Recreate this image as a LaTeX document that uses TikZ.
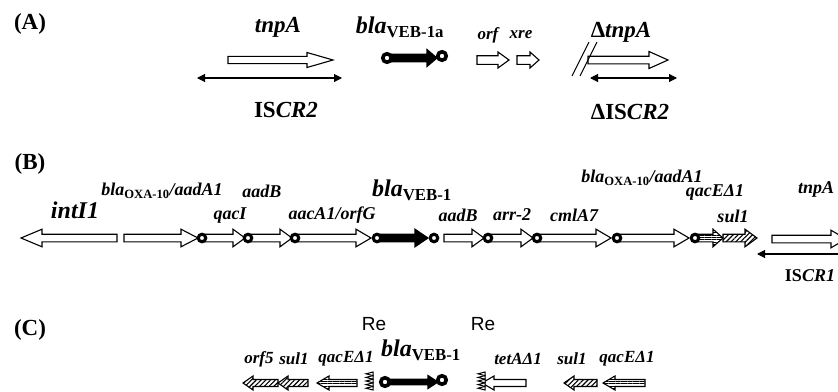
\documentclass[tikz,border=0pt]{standalone}
\usepackage{fontspec}
\setmainfont{Liberation Serif}
\setsansfont{Liberation Sans}
\usetikzlibrary{arrows.meta,patterns.meta}

\def\gs{4}\def\gH{9}
\newcommand{\gene}[5][]{%
  \pgfmathsetmacro\gneck{#3-sign(#3-#2)*#5}%
  \path[genebase,#1] (#2,#4-\gs) -- (\gneck,#4-\gs) -- (\gneck,#4-\gH) -- (#3,#4)
     -- (\gneck,#4+\gH) -- (\gneck,#4+\gs) -- (#2,#4+\gs) -- cycle;}
\newcommand{\resite}[2]{%
  \foreach \k in {0,...,4} {\draw[line width=1pt, fill=white]
     (#1,#2+3.6*\k) -- (#1-7,#2+1.8+3.6*\k) -- (#1,#2+3.6+3.6*\k) -- cycle;}}

\tikzset{
  genebase/.style={draw=black, line width=1.1pt, fill=white, line join=miter},
  solidg/.style={fill=black},
  hatch/.style={pattern={Lines[angle=45,distance=3.4pt,line width=1.1pt]}},
  hstripe/.style={pattern={Lines[angle=0,distance=2.4pt,line width=0.8pt]}},
  att/.style={circle, draw=black, fill=white, line width=3.1pt, inner sep=0pt, minimum size=7.5pt},
  attA/.style={att, line width=3.6pt, minimum size=8.5pt},
  dbl/.style={{Triangle[length=8pt,width=8pt]}-{Triangle[length=8pt,width=8pt]}, line width=1.1pt},
  pan/.style={font=\fontsize{23}{25}\selectfont\bfseries, inner sep=0pt},
  labA/.style={font=\fontsize{23}{25}\selectfont\bfseries\itshape, inner sep=0pt},
  labS/.style={font=\fontsize{17}{20}\selectfont\bfseries\itshape, inner sep=0pt},
  labB/.style={font=\fontsize{18}{20}\selectfont\bfseries\itshape, inner sep=0pt},
  labBig/.style={font=\fontsize{24}{26}\selectfont\bfseries\itshape, inner sep=0pt},
  relab/.style={font=\fontsize{19}{21}\selectfont\sffamily, inner sep=0pt},
}

\begin{document}
\begin{tikzpicture}[x=1pt,y=-1pt]
\fill[white] (0,0) rectangle (838,391);
\clip (0,0) rectangle (838,391);

% ---------------- Panel A ----------------
\node[pan] (pA) at (30,24) {(A)};
\def\gs{3.6}\def\gH{7.5}
\gene{228}{333}{60}{26}
\node[labA] (tnpA) at (278,27) {tnpA};
\coordinate (a1) at (197,78); \coordinate (a2) at (342,78);
\draw[dbl] (a1) -- (a2);
\node[labA] (iscr2) at (286,110) {{\upshape IS}CR2};

\def\gs{3.8}\def\gH{8.5}
\gene[solidg]{387}{437}{58}{10}
\node[attA] (vA1) at (387,58) {};
\node[attA] (vA2) at (442,56) {};
\node[labBig] (veb1a) at (400,27) {bla\textsubscript{\upshape VEB-1a}};

\def\gs{4.3}\def\gH{8}
\gene{477}{509}{60}{11}
\gene{517}{539}{60}{9}
\node[labS] (orf) at (488,35) {orf};
\node[labS] (xre) at (521,35) {xre};

\def\gs{3.8}\def\gH{8.5}
\gene{588}{668}{60}{19}
\draw[line width=1pt] (572,76) -- (589,42);
\draw[line width=1pt] (580,76) -- (597,42);
\coordinate (a3) at (590,78); \coordinate (a4) at (677,78);
\draw[dbl] (a3) -- (a4);
\node[labA] (dtnpA) at (621,32) {{\upshape Δ}tnpA};
\node[labA] (discr2) at (630,112) {{\upshape ΔIS}CR2};

% ---------------- Panel B ----------------
\node[pan] (pB) at (30,164) {(B)};
\def\gs{3.8}\def\gH{8.8}
\gene{117}{21}{238}{21}
\node[labBig] (intI1) at (75,210) {intI1};
\gene{124}{198}{238}{17}
\gene{202}{245}{238}{12}
\gene{248}{292}{238}{12}
\gene{295}{371}{238}{15}
\gene[solidg]{377}{428}{238}{13}
\gene{444}{484}{238}{12}
\gene{488}{533}{238}{12}
\gene{537}{611}{238}{15}
\gene{617}{689}{238}{15}
\gene[hstripe]{695}{723}{238}{10}
\gene[hatch]{723}{757}{238}{12}
\gene{772}{846}{239}{15}
\node[att] (c1) at (202,238) {};
\node[att] (c2) at (248,238) {};
\node[att] (c3) at (295,238) {};
\node[att] (c4) at (377,238) {};
\node[att] (c5) at (434,238) {};
\node[att] (c6) at (488,238) {};
\node[att] (c7) at (537,238) {};
\node[att] (c8) at (617,238) {};
\node[att] (c9) at (695,238) {};
\coordinate (b1) at (757,254); \coordinate (b2) at (846,254);
\draw[dbl] (b1) -- (b2);

\node[labB] (oxa1) at (162,191) {bla\textsubscript{\upshape OXA-10}/aadA1};
\node[labB] (qacI) at (230,216) {qacI};
\node[labB] (aadB1) at (262,191) {aadB};
\node[labB] (aacA1) at (332,215) {aacA1/orfG};
\node[labBig] (veb1) at (412,190) {bla\textsubscript{\upshape VEB-1}};
\node[labB] (aadB2) at (458,215) {aadB};
\node[labB] (arr2) at (512,215) {arr-2};
\node[labB] (cmlA7) at (574,215) {cmlA7};
\node[labB] (oxa2) at (642,178) {bla\textsubscript{\upshape OXA-10}/aadA1};
\node[labB] (qacE1) at (715,192) {qacEΔ1};
\node[labB] (sul1b) at (733,216) {sul1};
\node[labB] (tnpAb) at (816,189) {tnpA};
\node[labB] (iscr1) at (810,276) {{\upshape IS}CR1};

% ---------------- Panel C ----------------
\node[pan] (pC) at (30,330) {(C)};
\node[relab] (re1) at (374,324) {Re};
\node[relab] (re2) at (483,324) {Re};
\def\gs{3.5}\def\gH{7}
\gene[hatch]{278}{243}{383}{10}
\gene[hatch]{308}{278}{383}{10}
\gene[hstripe]{357}{317}{383}{12}
\resite{373}{372}
\def\gs{2.8}\def\gH{6.5}
\gene[solidg]{385}{438}{382}{10}
\node[attA] (vC1) at (385,382) {};
\node[attA] (vC2) at (442,380) {};
\def\gs{3.5}\def\gH{7}
\gene{526}{482}{383}{12}
\resite{485}{372}
\gene[hatch]{597}{564}{383}{10}
\gene[hstripe]{645}{603}{383}{12}

\node[labS] (orf5) at (259,359) {orf5};
\node[labS] (sul1c) at (294,359) {sul1};
\node[labS] (qacEc) at (346,359) {qacEΔ1};
\node[labBig] (veb1c) at (421,350) {bla\textsubscript{\upshape VEB-1}};
\node[labS] (tetA) at (518,359) {tetAΔ1};
\node[labS] (sul1d) at (572,359) {sul1};
\node[labS] (qacEd) at (627,359) {qacEΔ1};
\end{tikzpicture}
\end{document}
